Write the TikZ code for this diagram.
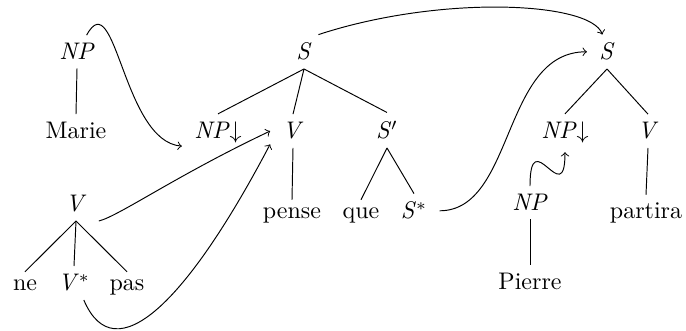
\documentclass[tikz,border=0pt]{standalone}
\begin{document}
\begin{tikzpicture}[x=0.4167pt,y=-0.4167pt,
  lbl/.style={anchor=base,inner xsep=5pt,inner ysep=3.33pt},
  link/.style={->}]
\useasboundingbox (0,0) rectangle (686,331);
% left NP tree
\node[lbl] (np1) at (77,60) {\textit{NP}};
\node[lbl] (marie) at (76,139) {Marie};
% middle S tree
\node[lbl] (sm) at (304,60) {\textit{S}};
\node[lbl] (npd1) at (218,139) {\textit{NP}$\downarrow$};
\node[lbl] (vm) at (293,139) {\textit{V}};
\node[lbl] (spr) at (387,139) {\textit{S}$'$};
\node[lbl] (pense) at (292,219) {pense};
\node[lbl] (que) at (361,219) {que};
\node[lbl] (ss) at (414,219) {\textit{S}$^*$};
% right S tree
\node[lbl] (sr) at (607,60) {\textit{S}};
\node[lbl] (npd2) at (565,139) {\textit{NP}$\downarrow$};
\node[lbl] (vr) at (648,139) {\textit{V}};
\node[lbl] (partira) at (646,219) {partira};
% Pierre tree
\node[lbl] (np2) at (530,211) {\textit{NP}};
\node[lbl] (pierre) at (530,290) {Pierre};
% auxiliary V tree
\node[lbl] (vl) at (76,212) {\textit{V}};
\node[lbl] (ne) at (25,291) {ne};
\node[lbl] (vs) at (74,291) {\textit{V}$^*$};
\node[lbl] (pas) at (127,291) {pas};
% tree edges
\draw (np1.south) -- (marie.north);
\draw (sm.south) -- (npd1.north);
\draw (sm.south) -- (vm.north);
\draw (sm.south) -- (spr.north);
\draw (vm.south) -- (pense.north);
\draw (spr.south) -- (que.north);
\draw (spr.south) -- (ss.north);
\draw (sr.south) -- (npd2.north);
\draw (sr.south) -- (vr.north);
\draw (vr.south) -- (partira.north);
\draw (np2.south) -- (pierre.north);
\draw (vl.south) -- (ne.north);
\draw (vl.south) -- (vs.north);
\draw (vl.south) -- (pas.north);
% operations
\draw[link] (np1.60) .. controls +(29,-53) and +(-59,-5) .. (npd1.200);
\draw[link] (sm.50) .. controls +(122,-40) and +(-12,-33) .. (sr.105);
\draw[link] (ss.east) .. controls +(75,0) and +(-85,0) .. (sr.west);
\draw[link] (vl.south east) .. controls +(20,-5) and +(-93,44) .. (vm.west);
\draw[link] (vs.-60) .. controls +(31,73) and +(-83,158) .. (vm.210);
\draw[link] (np2.north) .. controls +(0,-65) and +(0,60) .. (npd2.south);
\end{tikzpicture}
\end{document}
